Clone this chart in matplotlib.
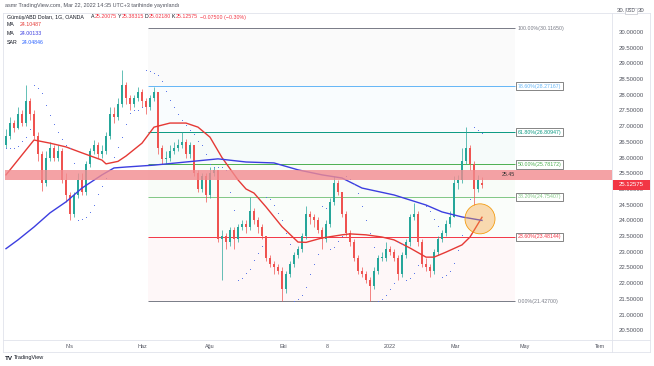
import numpy as np
import matplotlib
matplotlib.use("Agg")
import matplotlib.pyplot as plt
from matplotlib.patches import Ellipse, Rectangle
from matplotlib.lines import Line2D

plt.rcParams['font.family'] = ['Liberation Sans', 'DejaVu Sans']

# candles (about 3 trading days each), Feb 2021 -> Mar 22 2022
opens = [26.4, 26.7, 27.1, 26.95, 27.4, 27.1, 27.8, 27.4, 26.7, 26.1,
         25.2, 26.0, 26.3, 26.0, 26.2, 25.3, 24.8, 24.2, 24.8, 25.3,
         24.9, 25.8, 26.2, 26.4, 26.1, 26.2, 26.7, 27.4, 27.3, 27.7,
         28.3, 27.9, 27.7, 27.9, 28.1, 27.8, 27.6, 27.9, 28.1, 26.3,
         25.95, 26.0, 26.2, 26.3, 26.4, 26.5, 26.1, 26.4, 25.5, 25.0,
         25.4, 24.8, 25.5, 25.6, 23.4, 23.5, 23.3, 23.7, 23.4, 23.8,
         23.9, 23.8, 24.3, 24.0, 23.8, 23.5, 22.8, 22.6, 22.5, 22.4,
         21.8, 22.3, 22.6, 22.9, 23.1, 23.5, 24.2, 24.1, 24.0, 23.7,
         23.4, 23.9, 24.6, 25.2, 24.9, 24.2, 23.6, 23.3, 22.8, 22.4,
         22.3, 22.1, 21.9, 22.4, 22.8, 22.8, 23.1, 23.0, 22.8, 22.3,
         22.9, 23.3, 24.1, 24.2, 23.3, 22.6, 22.5, 22.4, 23.0, 23.4,
         23.6, 23.9, 24.1, 25.2, 25.3, 25.9, 26.3, 25.8, 25.0, 25.20]
closes = [26.7, 27.1, 26.95, 27.4, 27.1, 27.8, 27.4, 26.7, 26.1, 25.2,
          26.0, 26.3, 26.0, 26.2, 25.3, 24.8, 24.2, 24.8, 25.3, 24.9,
          25.8, 26.2, 26.4, 26.1, 26.2, 26.7, 27.4, 27.3, 27.7, 28.3,
          27.9, 27.7, 27.9, 28.1, 27.8, 27.6, 27.9, 28.1, 26.3, 25.95,
          26.0, 26.2, 26.3, 26.4, 26.5, 26.1, 26.4, 25.5, 25.0, 25.4,
          24.8, 25.5, 25.6, 23.4, 23.5, 23.3, 23.7, 23.4, 23.8, 23.9,
          23.8, 24.3, 24.0, 23.8, 23.5, 22.8, 22.6, 22.5, 22.4, 21.8,
          22.3, 22.6, 22.9, 23.1, 23.5, 24.2, 24.1, 24.0, 23.7, 23.4,
          23.9, 24.6, 25.2, 24.9, 24.2, 23.6, 23.3, 22.8, 22.4, 22.3,
          22.1, 21.9, 22.4, 22.8, 22.8, 23.1, 23.0, 22.8, 22.3, 22.9,
          23.3, 24.1, 24.2, 23.3, 22.6, 22.5, 22.4, 23.0, 23.4, 23.6,
          23.9, 24.1, 25.2, 25.3, 25.9, 26.3, 25.8, 25.0, 25.3, 25.12575]
highs = [26.9, 27.3, 27.2, 27.6, 27.5, 28.3, 27.9, 27.5, 26.8, 26.2,
         26.2, 26.5, 26.4, 26.4, 26.3, 25.5, 24.9, 24.9, 25.5, 25.5,
         25.9, 26.3, 26.55, 26.5, 26.4, 26.8, 27.6, 27.6, 27.9, 28.8,
         28.4, 28.0, 28.0, 28.25, 28.2, 27.9, 28.0, 28.25, 28.1, 26.4,
         26.2, 26.4, 26.5, 26.6, 26.8, 26.6, 26.5, 26.4, 25.6, 25.5,
         25.5, 25.7, 25.7, 25.6, 23.7, 23.6, 23.8, 23.8, 23.9, 24.0,
         24.0, 24.75, 24.4, 24.1, 23.9, 23.5, 22.9, 22.7, 22.6, 22.5,
         22.4, 22.7, 23.0, 23.2, 23.6, 24.45, 24.3, 24.2, 24.1, 23.8,
         24.0, 24.7, 25.4, 25.3, 24.9, 24.3, 23.7, 23.4, 22.9, 22.5,
         22.4, 22.2, 22.5, 22.9, 23.0, 23.3, 23.2, 23.1, 22.9, 23.0,
         23.4, 24.2, 24.55, 24.3, 23.4, 22.8, 22.6, 23.1, 23.5, 23.7,
         24.0, 24.3, 25.4, 25.45, 26.3, 26.97, 26.4, 25.9, 25.45, 25.38315]
lows = [26.3, 26.6, 26.8, 26.9, 27.0, 27.0, 27.2, 26.6, 25.9, 24.95,
        25.1, 25.9, 25.9, 25.9, 25.2, 24.6, 24.0, 24.1, 24.7, 24.8,
        24.8, 25.7, 26.1, 26.0, 26.0, 26.1, 26.6, 27.1, 27.2, 27.6,
        27.7, 27.5, 27.6, 27.8, 27.6, 27.4, 27.5, 27.8, 26.1, 25.8,
        25.8, 25.9, 26.1, 26.2, 26.3, 26.0, 26.0, 25.4, 24.9, 24.9,
        24.6, 24.7, 25.4, 23.3, 22.1, 23.1, 23.2, 23.1, 23.3, 23.7,
        23.6, 23.7, 23.9, 23.6, 23.4, 22.7, 22.5, 22.3, 22.3, 21.43,
        21.7, 22.2, 22.5, 22.8, 23.0, 23.4, 23.9, 23.8, 23.6, 23.1,
        23.3, 23.8, 24.5, 24.8, 24.1, 23.5, 23.2, 22.7, 22.3, 22.2,
        22.0, 21.43, 21.8, 22.3, 22.7, 22.7, 22.9, 22.7, 22.1, 22.2,
        22.8, 23.2, 24.0, 23.2, 22.5, 22.4, 22.2, 22.3, 22.9, 23.3,
        23.5, 23.8, 24.1, 25.0, 25.2, 25.8, 25.6, 24.5, 24.9, 25.0218]

# moving averages read at some bars
red_idx = [0, 7, 11, 15, 19, 24, 25, 28, 30, 34, 37, 41, 45, 48, 51, 54, 58, 60,
           62, 65, 69, 73, 75, 79, 84, 86, 90, 94, 97, 101, 105, 107, 110, 114, 116, 119]
red_ma = [25.45, 26.56, 26.46, 26.34, 26.15, 25.92, 25.8, 25.88, 26.05, 26.46, 26.97,
          27.1, 27.1, 26.97, 26.65, 26.0, 25.29, 25.0, 24.87, 24.43, 23.8, 23.31, 23.3,
          23.44, 23.54, 23.57, 23.54, 23.47, 23.38, 23.12, 22.83, 22.83, 22.99, 23.22,
          23.47, 24.1]
blue_idx = [0, 3, 7, 11, 15, 19, 24, 27, 30, 37, 45, 53, 60, 67, 73, 79, 84, 89,
            97, 101, 105, 109, 114, 119]
blue_ma = [23.1, 23.38, 23.79, 24.24, 24.59, 25.03, 25.45, 25.67, 25.7, 25.76, 25.86,
           25.96, 25.86, 25.83, 25.61, 25.45, 25.35, 25.03, 24.81, 24.65, 24.49, 24.27,
           24.11, 24.0]

fib_prices = [21.427, 23.48144, 24.75407, 25.78172, 26.80947, 28.27167, 30.1165]
fib_labels = ["0.00%(21.42700)", "23.60%(23.48144)", "38.20%(24.75407)",
              "50.00%(25.78172)", "61.80%(26.80947)", "78.60%(28.27167)",
              "100.00%(30.11650)"]
fib_colors = ["#787b86", "#f23645", "#81c784", "#4caf50", "#089981", "#64b5f6", "#787b86"]

month_pos = [16, 34, 51, 69.25, 80.25, 96, 112.25, 129.75, 148.5]
month_labels = ["Nis", "Haz", "Ağu", "Eki", "8", "2022", "Mar", "May", "Tem"]

zone_lo, zone_hi = 25.30, 25.60


def psar(high, low, step=0.04, amax=0.2):
    high = np.asarray(high); low = np.asarray(low)
    out = np.zeros(len(high))
    up = True
    ep = high[0]
    af = step
    out[0] = low[0]
    for i in range(1, len(high)):
        s = out[i-1] + af * (ep - out[i-1])
        if up:
            s = min(s, low[i-1], low[max(i-2, 0)])
            if low[i] < s:
                up = False; s = ep; ep = low[i]; af = step
            elif high[i] > ep:
                ep = high[i]; af = min(af + step, amax)
        else:
            s = max(s, high[i-1], high[max(i-2, 0)])
            if high[i] > s:
                up = True; s = ep; ep = high[i]; af = step
            elif low[i] < ep:
                ep = low[i]; af = min(af + step, amax)
        out[i] = s
    return out


W, H = 654, 366
fig = plt.figure(figsize=(W/100, H/100), dpi=100)
fig.patch.set_facecolor("white")


def fx(px):
    return px / W


def fy(py):
    return 1 - py / H


ax = fig.add_axes([fx(5), fy(340), (612-5)/W, (340-14)/H])
ax.set_xlim(-0.25, 151.5)
ax.set_ylim(20.191, 30.573)

o = np.array(opens); c = np.array(closes)
x = np.arange(len(c))
cols = np.where(c >= o, "#26a69a", "#ef5350")

# fib retracement
fx0, fx1 = 35.5, 127.25
for k in range(1, len(fib_prices)):
    ax.fill_between([fx0, fx1], fib_prices[k-1], fib_prices[k], color=fib_colors[k],
                    alpha=0.035, lw=0, zorder=1)
for k, p in enumerate(fib_prices):
    ax.hlines(p, fx0, fx1, color=fib_colors[k], lw=0.7, zorder=2)
    box = None
    if 0 < k < 6:
        box = dict(boxstyle="square,pad=0.3", fc="white", ec="#555555", lw=0.5)
    ax.text(128, p, fib_labels[k], fontsize=3.8, va="center", ha="left",
            color=fib_colors[k], bbox=box, zorder=6)

ax.vlines(x, lows, highs, colors=cols, lw=0.5, zorder=3)
ax.bar(x, np.maximum(np.abs(c - o), 0.03), bottom=np.minimum(o, c), width=0.65,
       color=cols, lw=0, zorder=3)

ax.plot(red_idx, red_ma, color="#e53935", lw=1.0, zorder=4)
ax.plot(blue_idx, blue_ma, color="#3c3ee0", lw=1.0, zorder=4)

sar = psar(highs, lows)
ax.scatter(x, sar, s=0.5, color="#5470e8", lw=0, zorder=4)

ax.axhspan(zone_lo, zone_hi, color="#f28b8f", alpha=0.8, lw=0, zorder=5)
ax.text(124, (zone_lo + zone_hi) / 2, "25.45", fontsize=3.8, va="center", ha="left",
        color="#333333", zorder=6)

ax.add_patch(Ellipse((118.5, 24.05), 7.5, 0.955, fc="#f7a440", alpha=0.4, lw=0, zorder=6))
ax.add_patch(Ellipse((118.5, 24.05), 7.5, 0.955, fc="none", ec="#f39c12", lw=0.6, zorder=6))

ax.yaxis.tick_right()
yt = np.arange(20.5, 30.01, 0.5)
ax.set_yticks(yt)
ax.set_yticklabels([f"{v:.5f}" for v in yt])
ax.tick_params(axis="y", length=0, pad=5, labelsize=4.3, labelcolor="#50535e")
ax.set_xticks(month_pos)
ax.set_xticklabels(month_labels)
ax.tick_params(axis="x", length=0, pad=3, labelsize=3.9, labelcolor="#50535e")
for s in ax.spines.values():
    s.set_visible(False)

# pane separators
lc = "#e0e3eb"
fig.add_artist(Line2D([fx(3), fx(650)], [fy(13), fy(13)], color=lc, lw=0.6))
fig.add_artist(Line2D([fx(3), fx(650)], [fy(340), fy(340)], color=lc, lw=0.6))
fig.add_artist(Line2D([fx(3), fx(650)], [fy(352), fy(352)], color=lc, lw=0.6))
fig.add_artist(Line2D([fx(3), fx(3)], [fy(13), fy(352)], color=lc, lw=0.6))
fig.add_artist(Line2D([fx(650), fx(650)], [fy(13), fy(352)], color=lc, lw=0.6))
fig.add_artist(Line2D([fx(612), fx(612)], [fy(13), fy(352)], color=lc, lw=0.6))

# last price tag
fig.add_artist(Rectangle((fx(613), fy(190)), (650-613)/W, 10/H, color="#f23645", lw=0))
fig.text(fx(631), fy(185), "25.12575", fontsize=4.3, color="white", ha="center", va="center")

# top of price scale, partly hidden by the currency tag
fig.text(fx(617), fy(11), "30.", fontsize=4.3, color="#50535e", ha="left", va="center")
fig.text(fx(631), fy(11), "USD", fontsize=3.3, color="#50535e", ha="center", va="center",
         bbox=dict(boxstyle="square,pad=0.2", fc="white", ec="#b2b5be", lw=0.4))
fig.text(fx(638), fy(11), "30", fontsize=4.3, color="#50535e", ha="left", va="center")

# texts
fig.text(fx(5), fy(5), "asmr TradingView.com, Mar 22, 2022 14:35 UTC+3 tarihinde yayınlandı",
         fontsize=4.0, color="#50535e", va="center")
fs = 3.8
fig.text(fx(7), fy(17), "Gümüş/ABD Doları, 1G, OANDA", fontsize=fs, color="#131722", va="center")
red = "#f23645"
for px, lab, val in [(91, "A", "25.20075"), (118, "Y", "25.38315"), (145, "D", "25.02180"),
                     (172, "K", "25.12575")]:
    fig.text(fx(px), fy(17), lab, fontsize=fs, color="#131722", va="center")
    fig.text(fx(px + 3.6), fy(17), val, fontsize=fs, color=red, va="center")
fig.text(fx(200), fy(17), "\u22120.07500 (\u22120.30%)", fontsize=fs, color=red, va="center")
fig.text(fx(7), fy(25), "MA", fontsize=fs, color="#131722", va="center")
fig.text(fx(20), fy(25), "24.10487", fontsize=fs, color="#e53935", va="center")
fig.text(fx(7), fy(33.5), "MA", fontsize=fs, color="#131722", va="center")
fig.text(fx(20), fy(33.5), "24.00133", fontsize=fs, color="#3c3ee0", va="center")
fig.text(fx(7), fy(42), "SAR", fontsize=fs, color="#131722", va="center")
fig.text(fx(22), fy(42), "24.04846", fontsize=fs, color="#2962ff", va="center")

fig.text(fx(5), fy(358), "TV", fontsize=4.5, color="#131722", weight="bold", va="center")
fig.text(fx(14), fy(358), "TradingView", fontsize=4.0, color="#131722", va="center")

fig.savefig("out.png", dpi=100)
